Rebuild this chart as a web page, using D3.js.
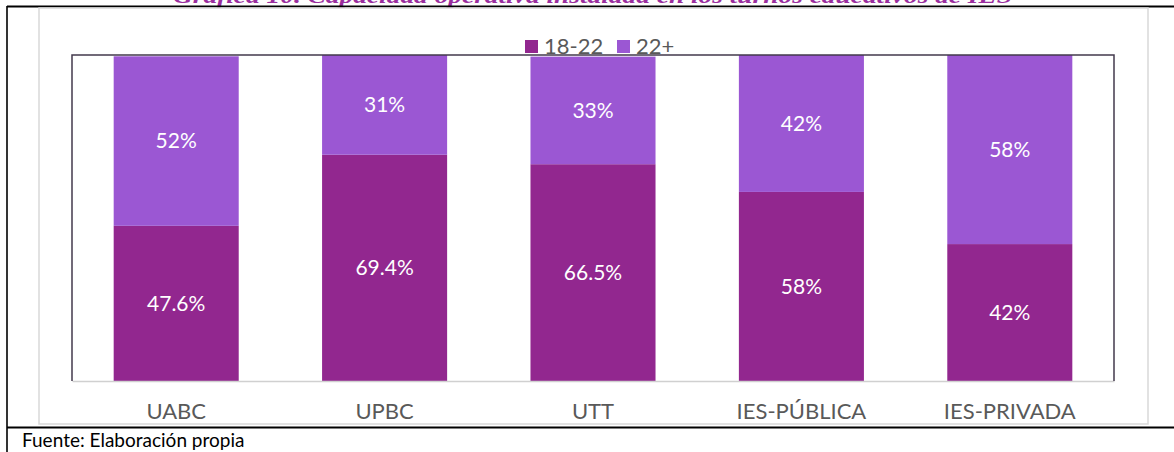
<!DOCTYPE html>
<html>
<head>
<meta charset="utf-8">
<script src="https://cdn.jsdelivr.net/npm/d3@7"></script>
<style>
  body { margin: 0; background: #fff; }
  svg { display: block; font-family: Lato, "Open Sans", sans-serif; }
</style>
</head>
<body>
<svg id="chart"></svg>
<script>
/* global d3 */
const categories = ["UABC", "UPBC", "UTT", "IES-PÚBLICA", "IES-PRIVADA"];
const seriesNames = ["18-22", "22+"];
const values1822 = [47.6, 69.4, 66.5, 58, 42];
const values22plus = [52, 31, 33, 42, 58];
const yDomain = [0, 100];

const WIDTH = 1174;
const HEIGHT = 452;
const MARGIN = { top: 55, bottom: 71, left: 72, right: 60 };
const FONT_SIZE = 21;
const palette = ["#92278F", "#9B57D3"];

const $svg = d3.select('#chart')
  .attr('width', WIDTH)
  .attr('height', HEIGHT);

$svg.append('rect')
  .attr('width', WIDTH)
  .attr('height', HEIGHT)
  .attr('fill', '#fff');

// title, cut off at the top of the page as in the source
$svg.append('text')
  .text('Gráfica 10. Capacidad operativa instalada en los turnos educativos de IES')
  .attr('x', 173)
  .attr('y', 3)
  .attr('textLength', 839)
  .attr('lengthAdjust', 'spacingAndGlyphs')
  .style('font-family', '"Liberation Serif", "DejaVu Serif", serif')
  .style('font-weight', 'bold')
  .style('font-style', 'italic')
  .style('font-size', '21px')
  .attr('fill', '#9A2E9E');

// outer table borders
$svg.append('line')
  .attr('x1', 7).attr('x2', WIDTH).attr('y1', 6.5).attr('y2', 6.5)
  .attr('stroke', '#000').attr('stroke-width', 2);
$svg.append('line')
  .attr('x1', 7).attr('x2', 7).attr('y1', 6).attr('y2', HEIGHT)
  .attr('stroke', '#000').attr('stroke-width', 1.6);
$svg.append('line')
  .attr('x1', 7).attr('x2', WIDTH).attr('y1', 427.5).attr('y2', 427.5)
  .attr('stroke', '#000').attr('stroke-width', 2);

// chart area border
$svg.append('rect')
  .attr('x', 39).attr('y', 8)
  .attr('width', 1148 - 39).attr('height', 424 - 8)
  .attr('fill', 'none')
  .attr('stroke', '#d9d9d9')
  .attr('stroke-width', 1.5);

const x = d3.scaleBand()
  .domain(categories)
  .range([MARGIN.left, WIDTH - MARGIN.right])
  .paddingInner(0.4)
  .paddingOuter(0.2);

const y = d3.scaleLinear()
  .domain(yDomain)
  .range([HEIGHT - MARGIN.bottom, MARGIN.top]);

const colour = d3.scaleOrdinal().domain(seriesNames).range(palette);

const rows = categories.map((c, i) => ({
  category: c,
  [seriesNames[0]]: values1822[i],
  [seriesNames[1]]: values22plus[i]
}));

const stacked = d3.stack().keys(seriesNames)(rows);

$svg.append('clipPath')
  .attr('id', 'plot-clip')
  .append('rect')
  .attr('x', MARGIN.left)
  .attr('y', y(yDomain[1]))
  .attr('width', WIDTH - MARGIN.left - MARGIN.right)
  .attr('height', y(0) - y(yDomain[1]));

const $gVis = $svg.append('g')
  .attr('class', 'g-vis')
  .attr('clip-path', 'url(#plot-clip)');

const $series = $gVis.selectAll('.series')
  .data(stacked)
  .join('g')
  .attr('class', 'series')
  .attr('fill', d => colour(d.key));

$series.selectAll('rect')
  .data(d => d)
  .join('rect')
  .attr('x', d => x(d.data.category))
  .attr('y', d => y(d[1]))
  .attr('width', x.bandwidth())
  .attr('height', d => y(d[0]) - y(d[1]));

// value labels
$series.selectAll('text')
  .data(d => d.map(p => ({ p, key: d.key })))
  .join('text')
  .attr('x', d => x(d.p.data.category) + x.bandwidth() / 2)
  .attr('y', d => (y(d.p[0]) + y(Math.min(d.p[1], yDomain[1]))) / 2)
  .attr('dy', '0.35em')
  .attr('text-anchor', 'middle')
  .attr('fill', '#fff')
  .style('font-size', `${FONT_SIZE}px`)
  .text(d => `${d.p.data[d.key]}%`);

// x axis
const axisX = d3.axisBottom(x)
  .tickSize(0)
  .tickSizeOuter(0)
  .tickPadding(22);

const $gAxis = $svg.append('g')
  .attr('class', 'axis--x')
  .attr('transform', `translate(0,${y(0)})`)
  .call(axisX);

$gAxis.select('.domain')
  .attr('stroke', '#d0d0d0')
  .attr('stroke-width', 1.5);

$gAxis.selectAll('text')
  .style('font-family', 'Lato, "Open Sans", sans-serif')
  .style('font-size', '22px')
  .attr('fill', '#595959');

// plot frame: left, top and right sides
const x0 = MARGIN.left, x1 = WIDTH - MARGIN.right;
const yTop = y(yDomain[1]), yBot = y(0);
$svg.append('path')
  .attr('d', `M${x0},${yBot}V${yTop}H${x1}V${yBot}`)
  .attr('fill', 'none')
  .attr('stroke', '#433a4c')
  .attr('stroke-width', 1.5);

// legend
const legendX = [525, 617];
const $legend = $svg.append('g')
  .attr('class', 'legend')
  .selectAll('g')
  .data(seriesNames)
  .join('g')
  .attr('transform', (d, i) => `translate(${legendX[i]},40)`);

$legend.append('rect')
  .attr('width', 13)
  .attr('height', 13)
  .attr('fill', d => colour(d));

$legend.append('text')
  .attr('x', 19)
  .attr('y', 13.5)
  .attr('fill', '#595959')
  .style('font-size', '22px')
  .text(d => d);

// source
$svg.append('text')
  .attr('x', 22)
  .attr('y', 447)
  .attr('fill', '#000')
  .style('font-size', '19px')
  .text('Fuente: Elaboración propia');
</script>
</body>
</html>
